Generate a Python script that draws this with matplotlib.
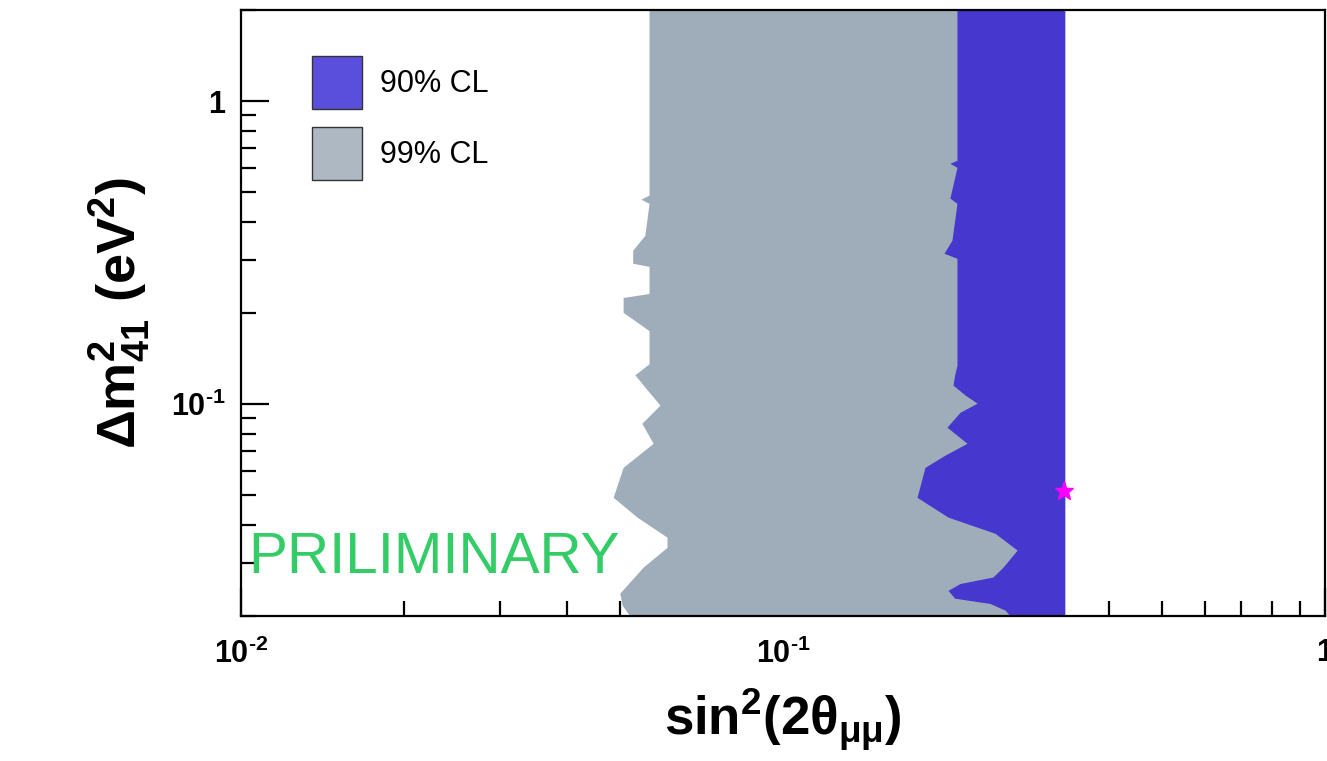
import matplotlib
matplotlib.use("Agg")
import matplotlib.pyplot as plt
from matplotlib.patches import Patch
from matplotlib.ticker import FixedLocator, FixedFormatter, LogLocator, NullFormatter

# ---------------- data ----------------
# 99% CL region: left boundary (sin^2 2theta) as a function of dm^2
dm2_99 = [2.0, 0.490, 0.475, 0.460, 0.361, 0.322, 0.292, 0.285, 0.232, 0.225,
          0.201, 0.175, 0.136, 0.125, 0.114, 0.0993, 0.0865, 0.0743, 0.0619,
          0.0493, 0.0424, 0.0364, 0.0337, 0.0290, 0.0238, 0.0217, 0.0200]
s2t_99 = [0.0566, 0.0566, 0.0547, 0.0566, 0.0556, 0.0528, 0.0528, 0.0566, 0.0566, 0.0507,
          0.0507, 0.0566, 0.0566, 0.0533, 0.0556, 0.0593, 0.0549, 0.0576, 0.0507,
          0.0486, 0.0538, 0.0611, 0.0611, 0.0552, 0.0500, 0.0505, 0.0522]

# 90% CL region: left boundary
dm2_90 = [2.0, 0.638, 0.624, 0.605, 0.479, 0.460, 0.348, 0.315, 0.303, 0.1345,
          0.1247, 0.1156, 0.1071, 0.1008, 0.0941, 0.0840, 0.0743, 0.0679, 0.0619,
          0.0493, 0.0424, 0.0375, 0.0330, 0.0290, 0.0269, 0.0256, 0.0243, 0.0229,
          0.0220, 0.0209, 0.0200]
s2t_90 = [0.2094, 0.2094, 0.2032, 0.2094, 0.2032, 0.2094, 0.2050, 0.1982, 0.2094, 0.2094,
          0.2073, 0.2059, 0.2169, 0.2281, 0.2122, 0.2007, 0.2185, 0.1990, 0.1828,
          0.1767, 0.2016, 0.2461, 0.2704, 0.2547, 0.2440, 0.2122, 0.2016, 0.2073,
          0.2409, 0.2570, 0.2625]

# common right edge of both regions
s2t_right = 0.331

# best fit point
best_fit_s2t = [0.330]
best_fit_dm2 = [0.0516]

x_ticks = [0.01, 0.1, 1.0]
x_tick_labels = [r"$10^{\text{-}2}$", r"$10^{\text{-}1}$", r"$1$"]
y_ticks = [0.1, 1.0]
y_tick_labels = [r"$10^{\text{-}1}$", r"$1$"]
legend_labels = ["90% CL", "99% CL"]

# ---------------- style ----------------
plt.rcParams["font.family"] = ["Liberation Sans", "DejaVu Sans"]
plt.rcParams["mathtext.fontset"] = "custom"
plt.rcParams["mathtext.rm"] = "Liberation Sans:bold"
plt.rcParams["mathtext.it"] = "Liberation Sans:bold"
plt.rcParams["mathtext.bf"] = "Liberation Sans:bold"
plt.rcParams["mathtext.sf"] = "Liberation Sans:bold"

c_gray = "#9EADB9"
c_blue = "#4637CE"

fig = plt.figure(figsize=(13.27, 7.61), dpi=100)
ax = fig.add_axes([241 / 1327, 145 / 761, 1084 / 1327, 606 / 761])
ax.set_xscale("log")
ax.set_yscale("log")
ax.set_xlim(0.01, 1.0)
ax.set_ylim(0.02, 2.0)

ax.fill_betweenx(dm2_99, s2t_99, s2t_right, color=c_gray, lw=0, zorder=3)
ax.fill_betweenx(dm2_90, s2t_90, s2t_right, color=c_blue, lw=0, zorder=3.1)
ax.plot(best_fit_s2t, best_fit_dm2, marker="*", color="#FF00FF", ms=14,
        ls="none", zorder=4, clip_on=False)

# ticks
ax.xaxis.set_major_locator(FixedLocator(x_ticks))
ax.xaxis.set_major_formatter(FixedFormatter(x_tick_labels))
ax.yaxis.set_major_locator(FixedLocator(y_ticks))
ax.yaxis.set_major_formatter(FixedFormatter(y_tick_labels))
ax.xaxis.set_minor_locator(LogLocator(base=10, subs=range(2, 10)))
ax.yaxis.set_minor_locator(LogLocator(base=10, subs=range(2, 10)))
ax.xaxis.set_minor_formatter(NullFormatter())
ax.yaxis.set_minor_formatter(NullFormatter())
ax.tick_params(which="both", direction="in", top=False, right=False, width=1.6,
               color="black", labelsize=22)
ax.tick_params(which="major", length=20)
ax.tick_params(which="minor", length=11)
ax.tick_params(axis="x", which="major", pad=16)
ax.tick_params(axis="y", which="major", pad=11)
for s in ax.spines.values():
    s.set_linewidth(1.6)
    s.set_zorder(5)

ax.set_xlabel(r"$\mathrm{sin}^{2}(2\theta_{\mu\mu})$", fontsize=38, labelpad=12)
ax.set_ylabel(r"$\Delta\mathrm{m}^{2}_{41}\ \mathrm{(eV}^{2}\mathrm{)}$", fontsize=39, labelpad=14)

# legend
handles = [Patch(facecolor="#5A4FDC", edgecolor="#333333", lw=1.0),
           Patch(facecolor="#ADB8C2", edgecolor="#333333", lw=1.0)]
ax.legend(handles, legend_labels, loc="upper left",
          bbox_to_anchor=((312 - 241) / 1084, (616 - 56) / 606),
          frameon=False, fontsize=22, handlelength=1.63, handleheight=2.3,
          labelspacing=0.57, handletextpad=0.6, borderpad=0, borderaxespad=0)

ax.text((248 - 241) / 1084, (616 - 558) / 606, "PRILIMINARY", transform=ax.transAxes,
        fontsize=42, color="#33CC66", ha="left", va="center", zorder=6)

fig.savefig("out.png", dpi=100)
